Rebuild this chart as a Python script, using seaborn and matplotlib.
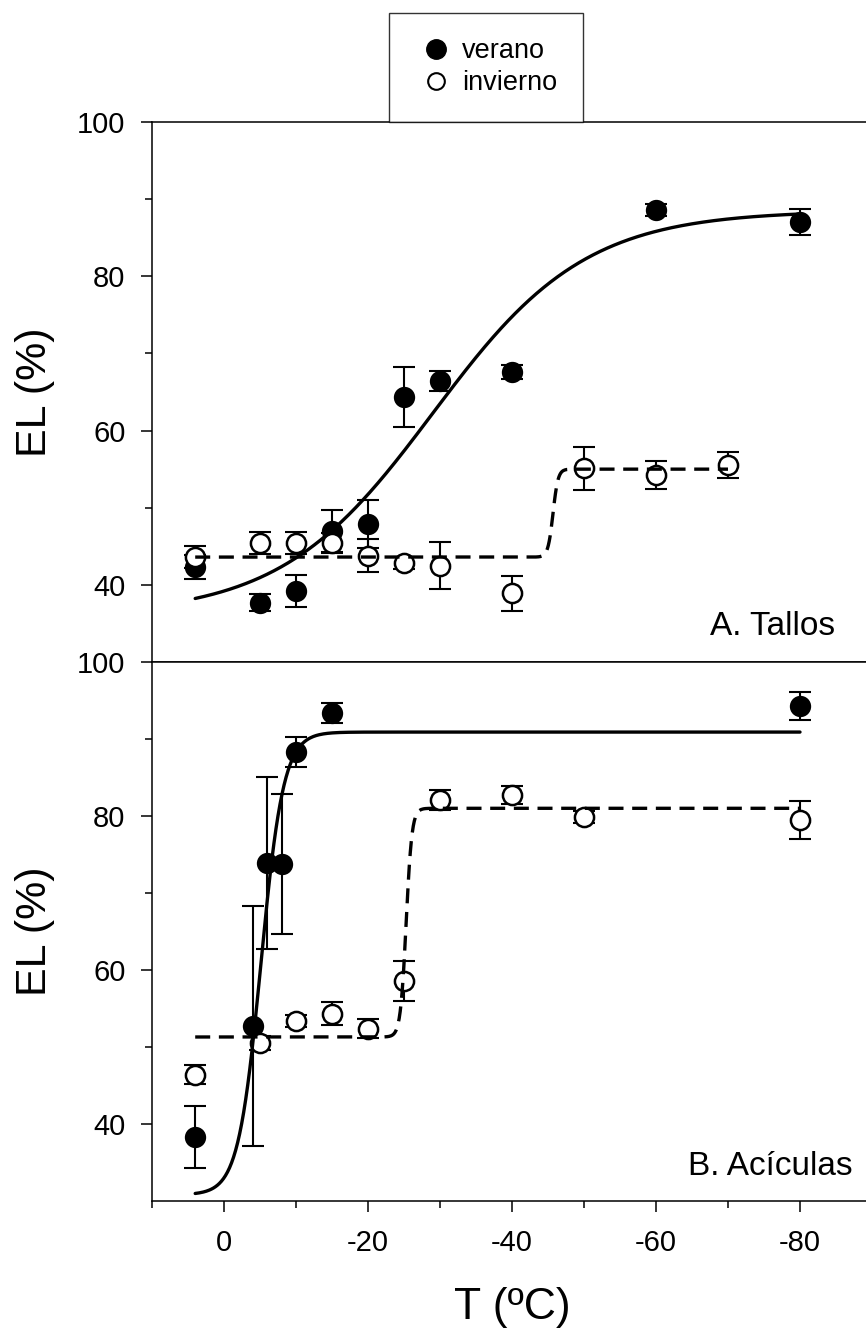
import numpy as np
import pandas as pd
import matplotlib
matplotlib.use("Agg")
import matplotlib.pyplot as plt
from matplotlib.lines import Line2D
from matplotlib.ticker import FixedLocator
import seaborn as sns

# ---------------- data ----------------
# Panel A: Tallos
tallos_T_verano = [4, -5, -10, -15, -20, -25, -30, -40, -60, -80]
tallos_EL_verano = [42.3, 37.7, 39.2, 47.0, 47.9, 64.3, 66.4, 67.6, 88.6, 87.0]
tallos_err_verano = [1.6, 1.1, 2.1, 2.7, 3.1, 3.9, 1.3, 0.9, 0.8, 1.7]

tallos_T_invierno = [4, -5, -10, -15, -20, -25, -30, -40, -50, -60, -70]
tallos_EL_invierno = [43.6, 45.4, 45.4, 45.4, 43.8, 42.8, 42.5, 38.9, 55.1, 54.2, 55.5]
tallos_err_invierno = [1.4, 1.4, 1.4, 1.3, 2.1, 0.8, 3.0, 2.3, 2.8, 1.8, 1.7]

# Panel B: Acículas
aciculas_T_verano = [4, -4, -6, -8, -10, -15, -80]
aciculas_EL_verano = [38.3, 52.7, 73.9, 73.8, 88.3, 93.4, 94.3]
aciculas_err_verano = [4.0, 15.6, 11.2, 9.1, 2.0, 1.3, 1.8]

aciculas_T_invierno = [4, -5, -10, -15, -20, -25, -30, -40, -50, -80]
aciculas_EL_invierno = [46.4, 50.5, 53.4, 54.3, 52.4, 58.6, 82.1, 82.7, 79.9, 79.5]
aciculas_err_invierno = [1.2, 0.9, 0.8, 1.5, 1.2, 2.6, 1.3, 1.2, 0.8, 2.5]

# Fitted sigmoid curves: (lower, upper, T50, width, T_start, T_end)
fit_tallos_verano = (36.0, 88.5, -29.0, 10.6, 4, -80)
fit_tallos_invierno = (43.6, 55.0, -45.7, 0.35, 4, -70)
fit_aciculas_verano = (30.8, 90.9, -5.13, 1.57, 4, -80)
fit_aciculas_invierno = (51.3, 81.0, -25.3, 0.40, 4, -80)

x_major = [0, -20, -40, -60, -80]
x_minor = [10, -10, -30, -50, -70, -90]
y_major = [40, 60, 80, 100]
y_minor = [50, 70, 90]

panel_labels = ["A. Tallos", "B. Acículas"]
legend_labels = ["verano", "invierno"]

# ---------------- style ----------------
sns.set_theme(style="ticks")
plt.rcParams["font.family"] = ["Liberation Sans", "DejaVu Sans"]
plt.rcParams.update({
    "axes.linewidth": 1.1,
    "text.color": "black",
    "axes.labelcolor": "black",
    "axes.edgecolor": "black",
    "xtick.color": "black",
    "ytick.color": "black",
    "xtick.labelcolor": "black",
    "ytick.labelcolor": "black",
})

W, H = 866, 1331
fig = plt.figure(figsize=(W / 100, H / 100), dpi=100)

left = 152 / W
width = 720 / W
ax_top = fig.add_axes([left, 1 - 662 / H, width, 540 / H])
ax_bot = fig.add_axes([left, 1 - 1201 / H, width, 539 / H])


def sigmoid_curve(params, n=600):
    lo, hi, t50, w, t0, t1 = params
    T = np.linspace(t0, t1, n)
    y = lo + (hi - lo) / (1 + np.exp((T - t50) / w))
    return pd.DataFrame({"T": T, "EL": y})


def draw_panel(ax, Tv, ELv, ev, Ti, ELi, ei, fit_v, fit_i):
    ms = 200
    ax.errorbar(Tv, ELv, yerr=ev, fmt="none", ecolor="black", elinewidth=1.5,
                capsize=8, capthick=1.5, zorder=2)
    ax.errorbar(Ti, ELi, yerr=ei, fmt="none", ecolor="black", elinewidth=1.5,
                capsize=8, capthick=1.5, zorder=2)
    dv = pd.DataFrame({"T": Tv, "EL": ELv})
    di = pd.DataFrame({"T": Ti, "EL": ELi})
    sns.scatterplot(data=dv, x="T", y="EL", ax=ax, s=ms, color="black",
                    edgecolor="black", linewidth=1.2, zorder=3, legend=False)
    sns.scatterplot(data=di, x="T", y="EL", ax=ax, s=ms * 0.95, color="white",
                    edgecolor="black", linewidth=1.8, zorder=3.5, legend=False)
    cv = sigmoid_curve(fit_v)
    ci = sigmoid_curve(fit_i)
    sns.lineplot(data=cv, x="T", y="EL", ax=ax, color="black", linewidth=2.4,
                 sort=False, zorder=4, legend=False)
    sns.lineplot(data=ci, x="T", y="EL", ax=ax, color="black", linewidth=2.4,
                 sort=False, zorder=4, legend=False, dashes=False)
    ax.lines[-1].set_dashes((4.5, 2.6))

    ax.set_xlim(10, -90)
    ax.set_ylim(30, 100)
    ax.yaxis.set_major_locator(FixedLocator(y_major))
    ax.yaxis.set_minor_locator(FixedLocator(y_minor))
    ax.set_yticklabels([str(v) for v in y_major])
    ax.tick_params(axis="y", which="major", direction="out", length=8, width=1.1,
                   labelsize=21, pad=11, left=True, color="black", labelcolor="black")
    ax.tick_params(axis="y", which="minor", direction="out", length=5, width=1.1,
                   left=True, color="black")
    for s in ax.spines.values():
        s.set_color("black")
        s.set_linewidth(1.1)
    ax.set_ylabel("EL (%)", fontsize=31, color="black")
    ax.yaxis.set_label_coords(-0.135, 0.5)


draw_panel(ax_top, tallos_T_verano, tallos_EL_verano, tallos_err_verano,
           tallos_T_invierno, tallos_EL_invierno, tallos_err_invierno,
           fit_tallos_verano, fit_tallos_invierno)
draw_panel(ax_bot, aciculas_T_verano, aciculas_EL_verano, aciculas_err_verano,
           aciculas_T_invierno, aciculas_EL_invierno, aciculas_err_invierno,
           fit_aciculas_verano, fit_aciculas_invierno)

# x axis: only on the lower panel
ax_top.tick_params(axis="x", which="both", bottom=False, labelbottom=False)
ax_top.set_xlabel("")
ax_bot.xaxis.set_major_locator(FixedLocator(x_major))
ax_bot.xaxis.set_minor_locator(FixedLocator(x_minor))
ax_bot.set_xticklabels([str(v) for v in x_major])
ax_bot.tick_params(axis="x", which="major", direction="out", length=8, width=1.1,
                   labelsize=21, pad=12, bottom=True, color="black", labelcolor="black")
ax_bot.tick_params(axis="x", which="minor", direction="out", length=5, width=1.1,
                   bottom=True, color="black")
ax_bot.set_xlabel("T (ºC)", fontsize=32, color="black")
ax_bot.xaxis.set_label_coords(0.5, -0.16)

# panel labels
ax_top.text(0.9486, 0.05, panel_labels[0], transform=ax_top.transAxes,
            ha="right", va="baseline", fontsize=24, color="black")
ax_bot.text(0.9736, 0.048, panel_labels[1], transform=ax_bot.transAxes,
            ha="right", va="baseline", fontsize=24, color="black")

# legend
handles = [
    Line2D([], [], linestyle="none", marker="o", markersize=14,
           markerfacecolor="black", markeredgecolor="black"),
    Line2D([], [], linestyle="none", marker="o", markersize=12,
           markerfacecolor="white", markeredgecolor="black", markeredgewidth=1.5),
]
leg = fig.legend(handles, legend_labels, loc="lower left",
                 bbox_to_anchor=(389 / W, 1 - 122 / H), borderaxespad=0,
                 fontsize=19.5, frameon=True, fancybox=False, borderpad=0.95,
                 labelspacing=0.22, handlelength=1.6, handletextpad=0.15)
leg.get_frame().set_edgecolor("black")
leg.get_frame().set_linewidth(1.0)
for t in leg.get_texts():
    t.set_color("black")

fig.savefig("out.png", dpi=100)
